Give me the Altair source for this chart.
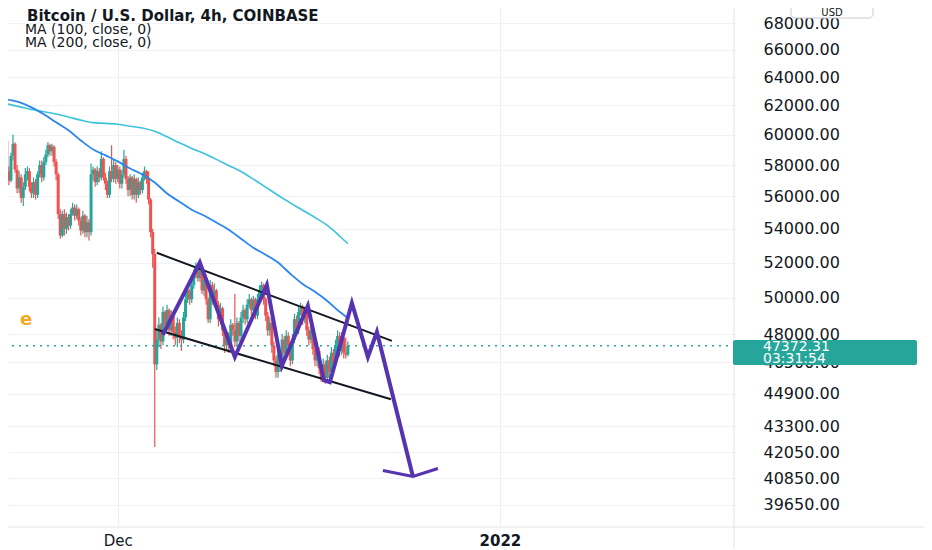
import altair as alt
import pandas as pd

# ---------------- data (prices in thousands of USD) ----------------
candle_start = "2021-11-21T20:00:00Z"   # 4h candles
first_open = 59.0
closes = [
    59.6,
    57.6, 57.0, 58.6, 59.4, 57.7, 56.5,
    57.2, 55.9, 56.6, 57.4, 57.6, 56.6,
    56.2, 56.9, 56.1, 57.4, 58.0, 57.2,
    58.2, 58.7, 59.3, 58.9, 59.2, 58.2,
    57.4, 54.9, 53.6, 54.9, 54.0, 54.7,
    54.2, 54.9, 55.3, 54.8, 55.2, 54.5,
    53.9, 54.8, 53.8, 54.4, 53.8, 57.4,
    57.7, 56.9, 57.6, 57.2, 58.4, 57.2,
    56.8, 56.1, 57.6, 57.1, 58.0, 57.1,
    57.7, 56.8, 57.4, 58.4, 57.1, 56.4,
    57.2, 56.1, 57.1, 56.1, 56.9, 56.4,
    57.2, 57.6, 57.1, 55.8, 53.8, 52.5,
    46.4, 47.7, 48.5, 47.6, 49.2, 48.5,
    49.3, 48.2, 49.0, 48.1, 47.8, 48.6,
    47.9, 47.7, 48.9, 49.9, 50.4, 49.9,
    50.7, 51.3, 51.7, 51.1, 51.6, 50.4,
    51.0, 49.9, 48.8, 50.7, 49.9, 50.4,
    49.6, 48.8, 49.4, 48.2, 47.4, 47.9,
    47.4, 48.5, 48.2, 47.6, 48.6, 47.9,
    48.9, 49.3, 48.8, 49.6, 49.9, 49.3,
    49.9, 49.0, 49.9, 50.4, 50.7, 49.9,
    49.0, 48.2, 48.6, 47.4, 46.6, 46.0,
    46.9, 46.4, 47.7, 47.0, 47.9, 47.4,
    46.6, 47.7, 48.8, 48.2, 49.2, 49.4,
    48.8, 49.2, 48.2, 47.7, 48.2, 47.2,
    46.6, 47.1, 46.2, 45.7, 46.4, 45.7,
    46.6, 46.0, 47.0, 46.5, 47.4, 47.9,
    47.1, 47.8, 47.0, 46.9, 47.37231,
]
highs = [
    60.0,
    59.7, 57.9, 58.8, 60.0, 59.5, 58.0,
    57.6, 57.4, 56.9, 57.8, 57.9, 57.8,
    56.9, 57.2, 57.1, 57.6, 58.3, 58.3,
    58.5, 59.0, 59.5, 59.4, 59.4, 59.3,
    58.4, 57.5, 55.2, 55.1, 55.2, 55.0,
    54.9, 55.2, 55.6, 55.5, 55.5, 55.3,
    54.7, 55.1, 54.9, 54.8, 54.6, 58.1,
    57.9, 57.8, 57.9, 57.8, 58.9, 58.5,
    57.5, 57.0, 57.9, 59.3, 58.4, 58.2,
    58.0, 57.9, 57.7, 59.0, 58.6, 57.3,
    57.4, 57.3, 57.4, 57.2, 57.2, 57.0,
    57.5, 57.9, 57.7, 57.6, 55.9, 54.0,
    52.8, 48.2, 48.9, 48.6, 49.5, 49.3,
    49.6, 49.4, 49.3, 49.2, 48.4, 48.9,
    48.8, 48.2, 49.2, 50.2, 50.7, 50.5,
    51.0, 51.6, 52.0, 51.9, 52.1, 51.7,
    51.3, 51.1, 50.0, 51.0, 50.9, 50.8,
    50.5, 49.8, 49.7, 49.5, 48.4, 48.2,
    48.1, 48.8, 48.6, 50.2, 48.9, 48.7,
    49.2, 49.6, 49.4, 49.9, 50.2, 50.0,
    50.1, 50.0, 50.2, 50.7, 50.9, 50.8,
    50.0, 49.2, 48.9, 48.8, 47.6, 46.8,
    47.1, 47.0, 48.0, 47.9, 48.2, 48.1,
    47.6, 48.0, 49.1, 49.0, 49.5, 49.7,
    49.6, 49.5, 49.4, 48.4, 48.5, 48.4,
    47.4, 47.4, 47.3, 46.4, 46.7, 46.6,
    46.9, 46.8, 47.3, 47.2, 47.7, 48.2,
    48.1, 48.1, 48.0, 47.8, 47.6,
]
lows = [
    58.8,
    57.3, 56.7, 56.9, 58.3, 57.5, 56.2,
    56.2, 55.6, 55.4, 56.4, 57.0, 56.3,
    55.9, 55.9, 55.8, 55.9, 57.2, 56.9,
    57.0, 58.0, 58.5, 58.6, 58.6, 57.9,
    57.0, 54.6, 53.4, 53.5, 53.6, 53.7,
    53.9, 54.0, 54.8, 54.5, 54.6, 54.2,
    53.6, 53.7, 53.5, 53.5, 53.3, 53.6,
    57.0, 56.6, 56.7, 56.9, 57.0, 57.0,
    56.4, 55.9, 55.9, 56.9, 56.9, 56.8,
    56.9, 56.5, 56.5, 57.2, 56.8, 56.0,
    56.0, 55.8, 55.8, 55.6, 55.9, 56.1,
    56.2, 57.0, 56.8, 55.5, 53.5, 51.7,
    42.3, 46.1, 47.3, 47.2, 47.4, 48.1,
    48.2, 47.9, 47.9, 47.7, 47.4, 47.3,
    47.5, 47.1, 47.5, 48.7, 49.7, 49.6,
    49.7, 50.5, 51.1, 50.9, 50.9, 50.2,
    50.1, 49.6, 48.6, 48.6, 49.6, 49.5,
    49.3, 48.4, 48.5, 47.9, 47.0, 47.1,
    47.0, 47.1, 47.9, 47.3, 47.4, 47.6,
    47.7, 48.6, 48.5, 48.6, 49.4, 49.0,
    49.1, 48.8, 48.8, 49.7, 50.2, 49.6,
    48.7, 47.9, 47.9, 47.0, 46.3, 45.7,
    45.7, 46.0, 46.1, 46.7, 46.8, 47.1,
    46.3, 46.4, 47.5, 47.9, 48.0, 49.0,
    48.5, 48.6, 47.9, 47.4, 47.5, 46.9,
    46.3, 46.3, 45.9, 45.5, 45.5, 45.4,
    45.5, 45.7, 45.8, 46.2, 46.3, 47.2,
    46.8, 46.9, 46.7, 46.7, 46.8,
]

ma_times = [
    "2021-11-21T12:00:00Z", "2021-11-22T00:00:00Z", "2021-11-23T00:00:00Z",
    "2021-11-24T00:00:00Z", "2021-11-25T00:00:00Z", "2021-11-26T00:00:00Z",
    "2021-11-27T00:00:00Z", "2021-11-28T00:00:00Z", "2021-11-29T00:00:00Z",
    "2021-11-30T00:00:00Z", "2021-12-01T00:00:00Z", "2021-12-02T00:00:00Z",
    "2021-12-03T00:00:00Z", "2021-12-04T00:00:00Z", "2021-12-05T00:00:00Z",
    "2021-12-06T00:00:00Z", "2021-12-07T00:00:00Z", "2021-12-08T00:00:00Z",
    "2021-12-09T00:00:00Z", "2021-12-10T00:00:00Z", "2021-12-11T00:00:00Z",
    "2021-12-12T00:00:00Z", "2021-12-13T00:00:00Z", "2021-12-14T00:00:00Z",
    "2021-12-15T00:00:00Z", "2021-12-16T00:00:00Z", "2021-12-17T00:00:00Z",
    "2021-12-18T00:00:00Z", "2021-12-19T00:00:00Z", "2021-12-19T16:00:00Z",
]
ma100 = [62.55, 62.43, 62.23, 61.87, 61.39, 60.84, 60.30, 59.62, 59.02, 58.63,
         58.24, 57.78, 57.39, 56.88, 56.18, 55.67, 55.17, 54.81, 54.38, 53.95,
         53.41, 52.87, 52.46, 52.00, 51.35, 50.77, 50.32, 49.81, 49.21, 48.87]
ma200 = [62.20, 62.11, 61.92, 61.72, 61.57, 61.41, 61.20, 60.99, 60.82, 60.77,
         60.71, 60.58, 60.45, 60.23, 59.86, 59.46, 59.09, 58.75, 58.37, 57.97,
         57.58, 57.09, 56.58, 56.07, 55.59, 55.14, 54.69, 54.21, 53.57, 53.11]

channel_upper_t = ["2021-12-04T04:00:00Z", "2021-12-23T05:45:00Z"]
channel_upper_v = [52.57, 47.63]
channel_lower_t = ["2021-12-04T00:00:00Z", "2021-12-23T03:50:00Z"]
channel_lower_v = [48.27, 44.62]

path_t = ["2021-12-04T15:40:00Z", "2021-12-07T15:45:00Z", "2021-12-10T11:55:00Z",
          "2021-12-13T02:15:00Z", "2021-12-14T07:30:00Z", "2021-12-16T10:08:00Z",
          "2021-12-17T17:18:00Z", "2021-12-18T05:00:00Z", "2021-12-19T23:51:00Z",
          "2021-12-21T07:00:00Z", "2021-12-22T00:33:00Z", "2021-12-24T22:41:00Z"]
path_v = [47.95, 52.00, 46.78, 50.71, 46.31, 49.54, 45.58, 45.48, 49.70, 46.78, 48.11, 40.92]
arrow_t = ["2021-12-22T12:15:00Z", "2021-12-24T22:41:00Z", "2021-12-26T23:23:00Z"]
arrow_v = [41.20, 40.92, 41.29]

current_price = 47372.31
countdown = "03:31:54"
y_ticks = [68000, 66000, 64000, 62000, 60000, 58000, 56000, 54000, 52000, 50000,
           48000, 46500, 44900, 43300, 42050, 40850, 39650]
x_tick_dates = ["2021-12-01T00:00:00Z", "2022-01-01T00:00:00Z"]
x_tick_labels = ["Dec", "2022"]
x_domain = ["2021-11-22T02:17:00Z", "2022-01-20T01:48:00Z"]
y_domain = [38757, 69152]
legend_title = "Bitcoin / U.S. Dollar, 4h, COINBASE"
legend_ma = ["MA (100, close, 0)", "MA (200, close, 0)"]
currency = "USD"
side_label = "e"

# ---------------- tables ----------------
def ms(s):
    return int(pd.Timestamp(s).value // 10**6)

times = pd.date_range(candle_start, periods=len(closes), freq="4h")
opens = [first_open] + closes[:-1]
cdf = pd.DataFrame({
    "t": times.strftime("%Y-%m-%dT%H:%M:%SZ"),
    "open": [v * 1000 for v in opens],
    "close": [v * 1000 for v in closes],
    "high": [v * 1000 for v in highs],
    "low": [v * 1000 for v in lows],
})
cdf["dir"] = ["up" if c >= o else "down" for o, c in zip(cdf["open"], cdf["close"])]

madf = pd.DataFrame({"t": ma_times, "ma100": [v * 1000 for v in ma100],
                     "ma200": [v * 1000 for v in ma200]})
chdf = pd.DataFrame({
    "t": channel_upper_t + channel_lower_t,
    "v": [v * 1000 for v in channel_upper_v + channel_lower_v],
    "id": ["upper"] * 2 + ["lower"] * 2,
})
pdf = pd.DataFrame({"t": path_t, "v": [v * 1000 for v in path_v], "i": list(range(len(path_t)))})
adf = pd.DataFrame({"t": arrow_t, "v": [v * 1000 for v in arrow_v], "i": list(range(len(arrow_t)))})
pricedf = pd.DataFrame({"p": [current_price]})

# ---------------- scales / axes ----------------
W, H = 727, 517
jan_ms = ms(x_tick_dates[1])
xscale = alt.Scale(type="utc", domain=[ms(d) for d in x_domain], nice=False)
yscale = alt.Scale(type="log", domain=y_domain, nice=False, zero=False)
xaxis = alt.Axis(
    values=[ms(d) for d in x_tick_dates],
    labelExpr=f"datum.value >= {jan_ms} ? '{x_tick_labels[1]}' : '{x_tick_labels[0]}'",
    labelFontWeight={"condition": {"test": f"datum.value >= {jan_ms}", "value": "bold"}, "value": "normal"},
    grid=True, gridColor="#eceef1", domain=False, ticks=False,
    labelFontSize=15, labelColor="#131722", labelFont="DejaVu Sans",
    labelPadding=8, title=None, labelFlush=False, labelOverlap=False,
)
yaxis = alt.Axis(
    orient="right", values=y_ticks, format=".2f", labelAlign="left",
    labelBaseline="middle", labelPadding=28, ticks=False, grid=True,
    gridColor="#f1f2f4", domain=False, labelFontSize=16, labelColor="#131722",
    labelFont="DejaVu Sans", title=None, labelOverlap=False, labelFlush=False,
)


def X(f):
    return alt.X(f"{f}:T", scale=xscale, axis=xaxis)


def Y(f):
    return alt.Y(f"{f}:Q", scale=yscale, axis=yaxis)


color = alt.Color("dir:N", scale=alt.Scale(domain=["up", "down"], range=["#26a69a", "#ef5350"]),
                  legend=None)

wicks = alt.Chart(cdf).mark_rule(strokeWidth=1.2, clip=True).encode(
    x=X("t"), y=Y("low"), y2="high", color=color)
bodies = alt.Chart(cdf).mark_rule(strokeWidth=3, clip=True).encode(
    x=X("t"), y=Y("open"), y2="close", color=color)

line200 = alt.Chart(madf).mark_line(color="#3cc3dc", strokeWidth=1.6, clip=True,
                                    interpolate="monotone").encode(x=X("t"), y=Y("ma200"))
line100 = alt.Chart(madf).mark_line(color="#2a86f0", strokeWidth=1.8, clip=True,
                                    interpolate="monotone").encode(x=X("t"), y=Y("ma100"))

price_line = alt.Chart(pricedf).mark_rule(color="#26a69a", strokeDash=[2, 5], strokeWidth=1.3).encode(
    y=Y("p"))

channel = alt.Chart(chdf).mark_line(color="#131722", strokeWidth=2, clip=True).encode(
    x=X("t"), y=Y("v"), detail="id:N")
path = alt.Chart(pdf).mark_line(color="#5633b0", strokeWidth=4, strokeJoin="miter", clip=True).encode(
    x=X("t"), y=Y("v"), order="i:Q")
arrow = alt.Chart(adf).mark_line(color="#5633b0", strokeWidth=3, strokeJoin="miter", clip=True).encode(
    x=X("t"), y=Y("v"), order="i:Q")


def label(text, x, y, **kw):
    return alt.Chart(pd.DataFrame({"txt": [text]})).mark_text(
        align="left", baseline="middle", font="DejaVu Sans", **kw
    ).encode(x=alt.value(x), y=alt.value(y), text="txt:N")


t_title = label(legend_title, 19, 8, fontSize=15, fontWeight="bold", color="#131722")
t_ma1 = label(legend_ma[0], 17, 22, fontSize=14, color="#131722")
t_ma2 = label(legend_ma[1], 17, 35, fontSize=14, color="#131722")
t_side = label(side_label, 12, 312, fontSize=18, fontWeight="bold", color="#f5a91d")

one = pd.DataFrame({"k": [0]})
price_box = alt.Chart(one).mark_rect(color="#26a69a", cornerRadius=2).encode(
    x=alt.value(725), x2=alt.value(909), y=alt.value(332), y2=alt.value(357))
t_price = label(f"{current_price:.2f}", 755, 339, fontSize=14, color="white")
t_count = label(countdown, 755, 351, fontSize=14, color="white")

usd_box = alt.Chart(one).mark_rect(fill="white", stroke="#c9ccd3", strokeWidth=1, cornerRadius=4).encode(
    x=alt.value(783), x2=alt.value(865), y=alt.value(-3), y2=alt.value(10))
t_usd = alt.Chart(pd.DataFrame({"txt": [currency]})).mark_text(
    align="center", baseline="middle", font="DejaVu Sans", fontSize=10, color="#131722"
).encode(x=alt.value(824), y=alt.value(5), text="txt:N")

sep_v = alt.Chart(one).mark_rule(color="#e0e3eb", strokeWidth=1).encode(
    x=alt.value(726), y=alt.value(-8), y2=alt.value(542))
sep_h = alt.Chart(one).mark_rule(color="#e0e3eb", strokeWidth=1).encode(
    y=alt.value(519), x=alt.value(-8), x2=alt.value(916))

chart = alt.layer(
    wicks, bodies, line200, line100, price_line, channel, path, arrow,
    sep_v, sep_h, t_title, t_ma1, t_ma2, t_side,
    price_box, t_price, t_count, usd_box, t_usd,
).properties(
    width=W, height=H,
    autosize=alt.AutoSizeParams(type="none"),
    padding={"left": 0, "top": 0, "right": 189, "bottom": 23},
    background="white",
).configure_view(stroke=None)

chart.save("out.html", embed_options={"renderer": "svg", "actions": False})
